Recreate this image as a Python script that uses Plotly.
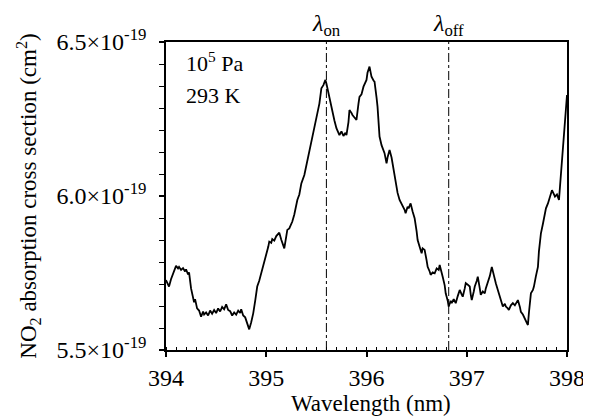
import plotly.graph_objects as go

# Wavelength (nm)
wavelength = [
    394.00, 394.02, 394.03, 394.05, 394.07, 394.09, 394.10, 394.12, 394.13, 394.15,
    394.17, 394.19, 394.20, 394.22, 394.23, 394.25, 394.27, 394.28, 394.29, 394.31,
    394.33, 394.35, 394.37, 394.38, 394.40, 394.42, 394.44, 394.46, 394.48, 394.50,
    394.52, 394.54, 394.56, 394.58, 394.60, 394.62, 394.64, 394.66, 394.68, 394.70,
    394.72, 394.74, 394.75, 394.77, 394.79, 394.81, 394.83, 394.85, 394.87, 394.89,
    394.91, 394.93, 394.96, 394.98, 395.00, 395.02, 395.03, 395.05, 395.06, 395.08,
    395.10, 395.13, 395.15, 395.16, 395.18, 395.20, 395.21, 395.23, 395.26, 395.28,
    395.31, 395.33, 395.35, 395.38, 395.41, 395.43, 395.46, 395.48, 395.51, 395.53,
    395.55, 395.57, 395.59, 395.60, 395.62, 395.64, 395.66, 395.68, 395.70, 395.72,
    395.73, 395.75, 395.77, 395.79, 395.80, 395.82, 395.83, 395.85, 395.86, 395.88,
    395.90, 395.92, 395.93, 395.95, 395.97, 396.00, 396.01, 396.03, 396.04, 396.05,
    396.07, 396.08, 396.10, 396.11, 396.13, 396.15, 396.18, 396.20, 396.21, 396.23,
    396.25, 396.26, 396.28, 396.29, 396.31, 396.33, 396.35, 396.36, 396.38, 396.39,
    396.41, 396.42, 396.44, 396.46, 396.48, 396.50, 396.51, 396.53, 396.55, 396.56,
    396.58, 396.60, 396.61, 396.63, 396.64, 396.66, 396.68, 396.70, 396.72, 396.73,
    396.75, 396.76, 396.78, 396.79, 396.81, 396.82, 396.84, 396.85, 396.87, 396.89,
    396.91, 396.93, 396.95, 396.96, 396.98, 396.99, 397.01, 397.03, 397.04, 397.05,
    397.07, 397.08, 397.10, 397.11, 397.13, 397.14, 397.16, 397.18, 397.19, 397.21,
    397.23, 397.25, 397.27, 397.29, 397.31, 397.33, 397.34, 397.36, 397.38, 397.39,
    397.41, 397.42, 397.44, 397.46, 397.48, 397.50, 397.51, 397.53, 397.54, 397.56,
    397.57, 397.59, 397.61, 397.62, 397.64, 397.66, 397.67, 397.69, 397.71, 397.72,
    397.74, 397.76, 397.78, 397.79, 397.81, 397.83, 397.85, 397.87, 397.88, 397.90,
    397.92, 397.93, 397.94, 397.96, 397.98, 398.00,
]
# Cross section in units of 1e-19 cm^2
cross_section = [
    5.727, 5.715, 5.706, 5.730, 5.749, 5.770, 5.773, 5.765, 5.770, 5.760,
    5.766, 5.755, 5.762, 5.745, 5.752, 5.700, 5.668, 5.655, 5.665, 5.635,
    5.628, 5.608, 5.625, 5.615, 5.622, 5.612, 5.628, 5.618, 5.630, 5.620,
    5.635, 5.625, 5.640, 5.632, 5.648, 5.630, 5.626, 5.612, 5.622, 5.615,
    5.628, 5.620, 5.632, 5.612, 5.606, 5.585, 5.567, 5.590, 5.619, 5.660,
    5.706, 5.725, 5.760, 5.785, 5.803, 5.835, 5.852, 5.848, 5.860, 5.855,
    5.870, 5.881, 5.858, 5.846, 5.830, 5.870, 5.890, 5.895, 5.917, 5.940,
    5.987, 6.005, 6.041, 6.068, 6.117, 6.150, 6.193, 6.225, 6.269, 6.300,
    6.350, 6.360, 6.377, 6.365, 6.333, 6.310, 6.279, 6.245, 6.220, 6.205,
    6.198, 6.210, 6.195, 6.205, 6.198, 6.240, 6.279, 6.270, 6.263, 6.255,
    6.247, 6.300, 6.322, 6.330, 6.355, 6.377, 6.400, 6.420, 6.395, 6.387,
    6.375, 6.371, 6.320, 6.290, 6.193, 6.165, 6.139, 6.106, 6.125, 6.149,
    6.125, 6.106, 6.070, 6.041, 6.010, 5.987, 5.975, 5.965, 5.955, 5.944,
    5.965, 5.960, 5.976, 5.950, 5.928, 5.885, 5.857, 5.835, 5.814, 5.830,
    5.825, 5.790, 5.770, 5.755, 5.744, 5.752, 5.749, 5.765, 5.760, 5.776,
    5.755, 5.738, 5.710, 5.684, 5.660, 5.641, 5.660, 5.652, 5.665, 5.652,
    5.675, 5.695, 5.680, 5.673, 5.700, 5.717, 5.712, 5.706, 5.680, 5.662,
    5.690, 5.706, 5.725, 5.738, 5.700, 5.679, 5.690, 5.684, 5.700, 5.717,
    5.740, 5.770, 5.740, 5.717, 5.695, 5.673, 5.655, 5.641, 5.650, 5.641,
    5.635, 5.630, 5.645, 5.652, 5.645, 5.660, 5.662, 5.640, 5.624, 5.615,
    5.608, 5.595, 5.581, 5.620, 5.684, 5.695, 5.706, 5.740, 5.770, 5.820,
    5.879, 5.910, 5.944, 5.960, 5.976, 6.000, 6.019, 6.005, 5.998, 6.005,
    5.987, 6.030, 6.074, 6.180, 6.269, 6.328,
]

lambda_on = 395.60
lambda_off = 396.82

y_tickvals = [5.5, 6.0, 6.5]
y_ticktext = ["5.5×10<sup>-19</sup>", "6.0×10<sup>-19</sup>", "6.5×10<sup>-19</sup>"]
x_tickvals = [394, 395, 396, 397, 398]

FONT = "Liberation Serif"
FS = 24

fig = go.Figure()
fig.add_trace(go.Scatter(x=wavelength, y=cross_section, mode="lines",
                         line=dict(color="black", width=1.8), showlegend=False))

for lam, lab in [(lambda_on, "on"), (lambda_off, "off")]:
    fig.add_shape(type="line", x0=lam, x1=lam, y0=0, y1=1, xref="x", yref="paper",
                  line=dict(color="black", width=1, dash="dashdot"))
    fig.add_annotation(x=lam, y=1.0, xref="x", yref="paper", yanchor="bottom",
                       xanchor="center", yshift=0, showarrow=False,
                       text="<i>λ</i><sub>" + lab + "</sub>",
                       font=dict(family=FONT, size=FS, color="black"))

fig.add_annotation(x=0.045, y=0.935, xref="paper", yref="paper", xanchor="left",
                   yanchor="middle", showarrow=False, text="10<sup>5</sup> Pa",
                   font=dict(family=FONT, size=22, color="black"))
fig.add_annotation(x=0.045, y=0.825, xref="paper", yref="paper", xanchor="left",
                   yanchor="middle", showarrow=False, text="293 K",
                   font=dict(family=FONT, size=22, color="black"))

fig.add_annotation(x=-0.345, y=0.5, xref="paper", yref="paper", textangle=-90,
                   xanchor="center", yanchor="middle", showarrow=False,
                   text="NO<sub>2</sub> absorption cross section (cm<sup>2</sup>)",
                   font=dict(family=FONT, size=23, color="black"))
fig.add_annotation(x=0.51, y=-0.175, xref="paper", yref="paper",
                   xanchor="center", yanchor="middle", showarrow=False,
                   text="Wavelength (nm)",
                   font=dict(family=FONT, size=23, color="black"))

fig.update_xaxes(range=[394, 398], tickvals=x_tickvals, ticks="outside", ticklen=5,
                 tickwidth=1.5, tickcolor="black", showline=True, linecolor="black",
                 linewidth=1.5, mirror=True, showgrid=False, zeroline=False,
                 automargin=False,
                 tickfont=dict(family=FONT, size=FS, color="black"),
                 minor=dict(dtick=0.1, tick0=394, ticks="inside", ticklen=3,
                            tickwidth=1, tickcolor="black", showgrid=False))
fig.update_yaxes(range=[5.5, 6.5], tickvals=y_tickvals, ticktext=y_ticktext,
                 ticks="outside", ticklen=5, tickwidth=1.5, tickcolor="black",
                 showline=True, linecolor="black", linewidth=1.5, mirror=True,
                 showgrid=False, zeroline=False, automargin=False,
                 ticklabelstandoff=8,
                 tickfont=dict(family=FONT, size=FS, color="black"),
                 minor=dict(dtick=0.5 / 7, tick0=5.5, ticks="outside", ticklen=5,
                            tickwidth=1, tickcolor="black", showgrid=False))

# The page body adds an 8px offset, so margins are shifted to compensate.
fig.update_layout(width=591, height=417, margin=dict(l=158, r=32, t=34, b=75),
                  plot_bgcolor="white", paper_bgcolor="white",
                  font=dict(family=FONT, color="black"))
fig.write_html("out.html")
